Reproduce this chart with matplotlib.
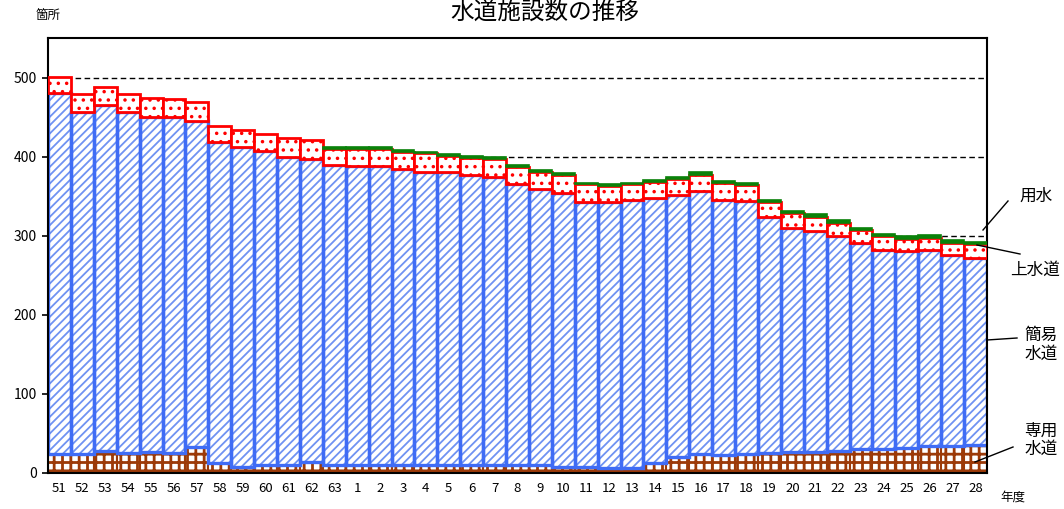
import matplotlib
matplotlib.use('Agg')
import matplotlib.pyplot as plt
from matplotlib.lines import Line2D
import numpy as np

plt.rcParams['font.family'] = ['Noto Sans CJK JP', 'DejaVu Sans']
plt.rcParams['hatch.linewidth'] = 1.3

# 年度 labels (昭和51..63, 平成1..28)
years = ['51', '52', '53', '54', '55', '56', '57', '58', '59', '60', '61', '62', '63',
         '1', '2', '3', '4', '5', '6', '7', '8', '9', '10', '11', '12', '13', '14',
         '15', '16', '17', '18', '19', '20', '21', '22', '23', '24', '25', '26', '27', '28']

# 専用水道
senyo = [24, 24, 27, 25, 26, 25, 32, 12, 7, 10, 9, 13, 9,
         10, 10, 10, 10, 10, 10, 10, 10, 9, 7, 7, 6, 6, 12,
         19, 24, 22, 23, 25, 26, 26, 27, 30, 30, 31, 33, 33, 35]
# 簡易水道
kani = [457, 432, 438, 431, 424, 425, 413, 406, 405, 397, 391, 384, 380,
        378, 378, 374, 371, 370, 366, 364, 355, 350, 347, 335, 336, 339, 336,
        332, 332, 323, 321, 299, 283, 280, 272, 260, 252, 249, 249, 242, 237]
# 上水道
josui = [20, 23, 23, 23, 24, 23, 24, 21, 22, 22, 23, 24, 21,
         22, 22, 22, 23, 21, 22, 23, 22, 22, 23, 23, 21, 20, 20,
         21, 21, 21, 20, 18, 19, 18, 17, 17, 17, 16, 15, 16, 17]
# 用水
yosui = [0, 0, 0, 0, 0, 0, 0, 0, 0, 0, 0, 0, 2,
         2, 2, 2, 2, 2, 2, 2, 2, 2, 2, 2, 2, 2, 2,
         2, 3, 3, 3, 3, 3, 3, 3, 3, 3, 3, 3, 3, 3]

W, H = 1064, 509
fig = plt.figure(figsize=(W / 100, H / 100), dpi=100)
ax = fig.add_axes([48 / W, 1 - 472.5 / H, (987 - 48) / W, (472.5 - 38) / H])

x = np.arange(len(years))
s = np.array(senyo)
k = np.array(kani)
j = np.array(josui)
g = np.array(yosui)

brown = '#9C3A08'
blue = '#3F6CF5'
blue_h = '#6F92F2'
red = '#FF0000'
green = '#0A820A'

# 専用水道 (thicker grid hatch)
with plt.rc_context({'hatch.linewidth': 2.0}):
    ax.bar(x, s, width=1.0, color='white', edgecolor=brown, hatch='++', linewidth=1.5, zorder=2)
# 簡易水道: lighter hatch, then thick outline on top
ax.bar(x, k, width=1.0, bottom=s, color='white', edgecolor=blue_h, hatch='////', linewidth=0, zorder=2)
ax.bar(x, k, width=1.0, bottom=s, color='none', edgecolor=blue, linewidth=2.4, zorder=2.1)
# 上水道
ax.bar(x, j, width=1.0, bottom=s + k, color='white', edgecolor=red, hatch='..', linewidth=2.0, zorder=3)
# 用水
ax.bar(x[g > 0], g[g > 0], width=1.0, bottom=(s + k + j)[g > 0], color=green,
       edgecolor=green, linewidth=1.2, zorder=3)

ax.set_xlim(-0.5, len(years) - 0.5)
ax.set_ylim(0, 550)
ax.set_yticks([0, 100, 200, 300, 400, 500])
ax.set_xticks(x)
ax.set_xticklabels(years)
ax.tick_params(axis='x', length=0, pad=7, labelsize=9.5)
ax.tick_params(axis='y', length=4, width=1.2, pad=4, labelsize=10)
ax.yaxis.grid(True, color='black', linestyle=(0, (4, 2.5)), linewidth=1.0)
ax.set_axisbelow(True)
for sp in ax.spines.values():
    sp.set_linewidth(1.5)
    sp.set_color('black')

fig.text(545 / W, 1 - 1 / H, '水道施設数の推移', ha='center', va='top', fontsize=17)
fig.text(48 / W, 1 - 15 / H, '箇所', ha='center', va='center', fontsize=9)
fig.text(1013 / W, 1 - 497 / H, '年度', ha='center', va='center', fontsize=9)

fig.text(1036 / W, 1 - 196 / H, '用水', ha='center', va='center', fontsize=12)
fig.text(1035 / W, 1 - 270 / H, '上水道', ha='center', va='center', fontsize=12)
fig.text(1041 / W, 1 - 345 / H, '簡易\n水道', ha='center', va='center', fontsize=12,
         linespacing=1.1, multialignment='right')
fig.text(1041 / W, 1 - 440 / H, '専用\n水道', ha='center', va='center', fontsize=12,
         linespacing=1.1, multialignment='right')

leaders = [((1008, 201), (983, 230)),
           ((1020, 254), (977, 245)),
           ((1017, 338), (987, 340)),
           ((1013, 447), (975, 462))]
for (x0, y0), (x1, y1) in leaders:
    fig.add_artist(Line2D([x0 / W, x1 / W], [1 - y0 / H, 1 - y1 / H],
                          transform=fig.transFigure, color='black', linewidth=1.0))

fig.savefig('out.png', dpi=100)
